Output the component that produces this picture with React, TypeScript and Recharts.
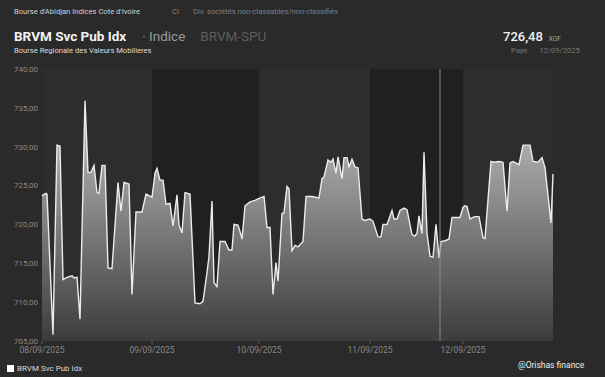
import {
  AreaChart,
  Area,
  XAxis,
  YAxis,
  ReferenceArea,
  ReferenceLine,
} from "recharts";

// sample step of each reading (intraday ticks, 5 sessions)
const steps = [
  0, 4, 5, 11, 15, 18, 21, 25, 30, 32, 35, 38, 43, 46, 49, 52, 55, 57, 60, 63,
  66, 70, 76, 79, 82, 87, 90, 94, 100, 104, 107,
  110, 113, 115, 118, 121, 124, 128, 131, 135, 137, 140, 143, 148, 153, 158,
  161, 165, 167, 170, 172, 175, 178, 183, 187, 190, 192, 196, 198, 200, 203,
  208, 213, 216,
  222, 225, 228, 231, 234, 236, 240, 242, 245, 247, 250, 253, 256, 261, 264,
  270, 277, 280, 282, 286, 289, 291, 294, 296, 300, 302, 305, 307, 310, 313,
  316, 320, 323,
  328, 331, 336, 339, 341, 345, 350, 352, 355, 358, 362, 365, 370, 373, 375,
  377, 380, 382, 385, 388, 391, 394, 397, 399, 403, 407, 410, 413, 418,
  421, 423, 425, 428, 431, 433, 437, 441, 443, 449, 452, 457, 461, 465, 468,
  471, 477, 481, 488, 491, 496, 500, 503, 509, 511,
];

const values = [
  723.7, 724.0, 723.9, 705.8, 730.2, 730.1, 712.9, 713.2, 713.4, 713.1, 713.2,
  707.8, 735.9, 726.7, 726.7, 727.6, 724.1, 724.0, 727.6, 727.6, 714.4, 714.3,
  725.4, 721.7, 725.4, 725.2, 711.0, 721.6, 721.6, 723.9, 723.7,
  723.5, 726.6, 727.2, 725.7, 725.7, 722.6, 722.7, 719.8, 723.8, 719.9, 718.9,
  724.1, 723.9, 709.9, 709.8, 710.1, 713.8, 715.9, 723.0, 712.5, 712.0, 717.8,
  717.8, 716.7, 716.7, 720.0, 719.9, 719.1, 718.1, 722.4, 722.9, 723.1, 723.3,
  723.6, 719.6, 719.6, 711.0, 715.1, 712.7, 721.4, 721.5, 724.9, 724.6, 716.6,
  717.3, 717.1, 717.8, 723.6, 723.6, 723.4, 725.9, 726.1, 728.3, 728.0, 728.4,
  726.6, 728.7, 725.9, 728.6, 728.6, 727.4, 728.4, 727.4, 727.3, 720.7, 720.5,
  720.7, 720.4, 718.4, 718.4, 720.0, 720.0, 721.8, 720.7, 720.7, 721.8, 722.1,
  721.9, 718.7, 718.5, 718.9, 721.1, 718.8, 729.3, 718.9, 715.9, 715.8, 720.0,
  715.7, 717.8, 717.9, 718.1, 720.9, 720.9, 720.9,
  722.2, 722.4, 722.3, 720.7, 720.9, 721.0, 721.0, 718.3, 718.2, 728.1, 728.0,
  728.1, 728.0, 721.7, 727.9, 728.1, 727.7, 730.2, 730.2, 728.1, 728.0, 728.6,
  727.3, 720.2, 726.48,
];

const dayStarts = [0, 110, 217, 328, 421];
const dayEnd = 511;
const dayLabels = ["08/09/2025", "09/09/2025", "10/09/2025", "11/09/2025", "12/09/2025"];
const priceTicks = [705, 710, 715, 720, 725, 730, 735, 740];
const pctLabels = ["97,41%", "98,10%", "98,79%", "99,48%", "100,17%", "100,86%", "101,56%", "102,25%"];
const cursorStep = 398;

const data = steps.map((t, i) => ({ t, v: values[i] }));

const font = "Roboto, 'Open Sans', sans-serif";
const tickStyle = { fill: "#8a8686", fontSize: 8, fontFamily: font };

export default function App() {
  return (
    <div
      style={{
        position: "absolute",
        left: 0,
        top: 0,
        width: 605,
        height: 377,
        background: "#2a2a2a",
        fontFamily: font,
        overflow: "hidden",
      }}
    >
      <div style={{ position: "absolute", left: 14, top: 7, fontSize: 7.6, color: "#d0d0d0", whiteSpace: "nowrap" }}>
        Bourse d'Abidjan Indices Cote d'Ivoire
        <span style={{ color: "#808080", marginLeft: 32 }}>CI</span>
        <span style={{ color: "#808080", marginLeft: 14 }}>Div. sociétés non-classables/non-classifiés</span>
      </div>
      <div style={{ position: "absolute", left: 14, top: 27, whiteSpace: "nowrap", lineHeight: "17px" }}>
        <span style={{ fontSize: 13.5, fontWeight: 700, color: "#f2f2f2" }}>BRVM Svc Pub Idx</span>
        <span style={{ fontSize: 13.5, color: "#9a9a9a", marginLeft: 16 }}>· Indice</span>
        <span style={{ fontSize: 13.5, color: "#5e5e5e", marginLeft: 15 }}>BRVM-SPU</span>
      </div>
      <div style={{ position: "absolute", left: 14, top: 46, fontSize: 7.6, color: "#dcdcdc", whiteSpace: "nowrap" }}>
        Bourse Regionale des Valeurs Mobilieres
      </div>
      <div style={{ position: "absolute", left: 503, top: 27, whiteSpace: "nowrap", lineHeight: "17px" }}>
        <span style={{ fontSize: 13, fontWeight: 500, color: "#f2f2f2" }}>726,48</span>
        <span style={{ fontSize: 6.5, color: "#a8a8a8", marginLeft: 6 }}>XOF</span>
      </div>
      <div style={{ position: "absolute", left: 511, top: 46, fontSize: 7.6, color: "#777", whiteSpace: "nowrap" }}>
        Paye<span style={{ marginLeft: 12 }}>12/09/2025</span>
      </div>

      <div style={{ position: "absolute", left: 0, top: 0 }}>
        <AreaChart
          width={605}
          height={377}
          data={data}
          margin={{ top: 69, right: 0, left: 0, bottom: 16 }}
        >
          <defs>
            <linearGradient id="fillGrad" x1="0" y1="0" x2="0" y2="1">
              <stop offset="0%" stopColor="#c4c4c4" />
              <stop offset="100%" stopColor="#3c3c3c" />
            </linearGradient>
          </defs>
          <XAxis
            type="number"
            dataKey="t"
            domain={[0, dayEnd]}
            ticks={dayStarts}
            tickFormatter={(v) => dayLabels[dayStarts.indexOf(v)]}
            axisLine={false}
            tickLine={{ stroke: "#5a5a5a" }}
            tickSize={3}
            tickMargin={3}
            height={20}
            tick={{ ...tickStyle, fontSize: 8.5 }}
          />
          <YAxis
            yAxisId="left"
            domain={[705, 740]}
            ticks={priceTicks}
            tickFormatter={(v) => v.toFixed(2).replace(".", ",")}
            axisLine={false}
            tickLine={false}
            tickSize={0}
            tickMargin={4}
            width={42}
            tick={tickStyle}
          />
          <YAxis
            yAxisId="right"
            orientation="right"
            domain={[705, 740]}
            ticks={priceTicks}
            tickFormatter={(v) => pctLabels[priceTicks.indexOf(v)]}
            axisLine={false}
            tickLine={false}
            tickSize={0}
            tickMargin={8}
            width={52}
            tick={{ ...tickStyle, textAnchor: "start" }}
          />
          {dayStarts.map((s, i) => (
            <ReferenceArea
              key={s}
              yAxisId="left"
              x1={s}
              x2={i < dayStarts.length - 1 ? dayStarts[i + 1] : dayEnd}
              y1={705}
              y2={740}
              fill={i % 2 === 0 ? "#2d2d2d" : "#202020"}
              fillOpacity={1}
              stroke="none"
            />
          ))}
          <Area
            yAxisId="left"
            type="linear"
            dataKey="v"
            stroke="#ececec"
            strokeWidth={1.4}
            fill="url(#fillGrad)"
            fillOpacity={1}
            isAnimationActive={false}
            dot={false}
            activeDot={false}
          />
          <ReferenceLine yAxisId="left" x={cursorStep} stroke="#8a8a8a" strokeWidth={1} />
        </AreaChart>
      </div>

      <div style={{ position: "absolute", left: 7, top: 364, display: "flex", alignItems: "center", whiteSpace: "nowrap" }}>
        <div style={{ width: 7, height: 7, background: "#ffffff", marginRight: 3 }} />
        <span style={{ fontSize: 8, color: "#d8d8d8" }}>BRVM Svc Pub Idx</span>
      </div>
      <div style={{ position: "absolute", left: 518, top: 360, fontSize: 8.5, color: "#eeeeee", whiteSpace: "nowrap" }}>
        @Orishas finance
      </div>
    </div>
  );
}
